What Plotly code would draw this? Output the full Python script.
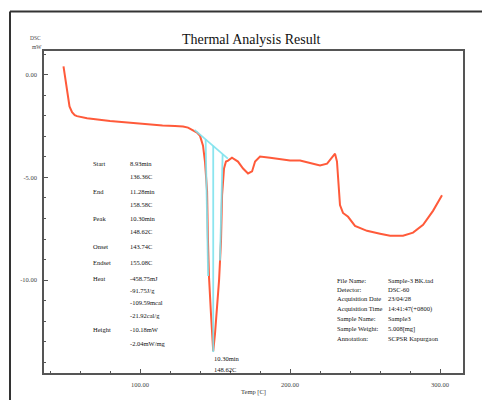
import plotly.graph_objects as go

# ---------------- data ----------------
temp_c = [49.0, 50.0, 51.0, 52.0, 53.0, 54.7, 56.5, 58.0, 64.7, 80.0, 95.0, 106.7, 115.0,
          123.3, 128.7, 132.0, 135.3, 138.0, 140.0, 142.0, 143.3, 144.7, 145.3, 146.0,
          147.3, 148.0, 148.8, 150.0, 151.3, 152.7, 154.0, 154.7, 156.0, 157.3, 158.7,
          161.3, 165.3, 168.7, 172.0, 174.7, 176.7, 180.0, 186.7, 200.0, 206.7, 213.0,
          220.0, 224.7, 228.7, 230.0, 231.3, 232.0, 233.3, 235.3, 238.7, 243.3, 251.3,
          260.0, 266.7, 275.3, 282.0, 288.7, 295.3, 301.3]
dsc_mw = [0.40, -0.10, -0.70, -1.20, -1.55, -1.83, -1.97, -2.02, -2.12, -2.26, -2.36, -2.45,
          -2.48, -2.50, -2.52, -2.58, -2.69, -2.82, -2.98, -3.46, -4.23, -5.67, -8.08, -9.86,
          -11.63, -12.60, -13.46, -12.60, -11.30, -10.00, -8.08, -5.87, -4.57, -4.23, -4.18,
          -4.04, -4.23, -4.57, -4.81, -4.71, -4.23, -3.99, -4.04, -4.18, -4.18, -4.30,
          -4.42, -4.33, -3.99, -3.85, -4.23, -5.19, -6.35, -6.73, -6.92, -7.36, -7.60,
          -7.74, -7.84, -7.84, -7.69, -7.31, -6.63, -5.87]

# analysis construction lines (baseline, onset tangent, peak line, endset tangent)
baseline_t = [136.36, 158.58]
baseline_d = [-2.69, -4.09]
onset_t = [143.74, 145.4]
onset_d = [-3.15, -9.80]
peak_t = [148.8, 148.8]
peak_d = [-3.46, -13.50]
endset_t = [155.08, 153.3]
endset_d = [-3.87, -9.05]

x_tick_vals = [100, 200, 300]
x_tick_text = ["100.00", "200.00", "300.00"]
y_tick_vals = [0, -5, -10]
y_tick_text = ["0.00", "-5.00", "-10.00"]

result_labels = ["Start", "", "End", "", "Peak", "", "Onset", "Endset", "Heat", "", "", "",
                 "Height", ""]
result_values = ["8.93min", "136.36C", "11.28min", "158.58C", "10.30min", "148.62C",
                 "143.74C", "155.08C", "-458.75mJ", "-91.75J/g", "-109.59mcal",
                 "-21.92cal/g", "-10.18mW", "-2.04mW/mg"]

info_labels = ["File Name:", "Detector:", "Acquisition Date", "Acquisition Time",
               "Sample Name:", "Sample Weight:", "Annotation:"]
info_values = ["Sample-3 BK.tad", "DSC-60", "23/04/28", "14:41:47(+0800)", "Sample3",
               "5.008[mg]", "SCPSR Kapurgaon"]

peak_labels = ["10.30min", "148.62C"]

# ---------------- figure ----------------
# page body adds an 8px margin, so the figure is sized/positioned to compensate
OFF = 8
W, H = 490 - OFF, 400 - OFF
PL, PR, PT, PB = 44, 463, 51, 377          # plot-area edges in window pixels
ML, MR, MT, MB = PL - OFF, W - (PR - OFF), PT - OFF, H - (PB - OFF)
PW, PH = W - ML - MR, H - MT - MB


def px_x(px):
    return (px - OFF - ML) / PW


def px_y(py):
    return (H - MB - (py - OFF)) / PH


FONT = "Liberation Serif"
RED = "#ff5a3a"
CYAN = "#7fe3ee"

fig = go.Figure()
fig.add_trace(go.Scatter(x=temp_c, y=dsc_mw, mode="lines",
                         line=dict(color=RED, width=2), hoverinfo="skip"))
for tx, dy in [(baseline_t, baseline_d), (onset_t, onset_d), (peak_t, peak_d),
               (endset_t, endset_d)]:
    fig.add_trace(go.Scatter(x=tx, y=dy, mode="lines",
                             line=dict(color=CYAN, width=1.8), opacity=0.9,
                             hoverinfo="skip"))


def note(text, px, py, size=6.5, xanchor="left", color="#111"):
    return dict(text=text, x=px_x(px), y=px_y(py), xref="paper", yref="paper",
                xanchor=xanchor, yanchor="middle", showarrow=False,
                font=dict(family=FONT, size=size, color=color))


annotations = [
    note("Thermal Analysis Result", 251, 39, size=14, xanchor="center"),
    note("DSC", 35, 38, size=5.5, xanchor="center", color="#444"),
    note("mW", 37, 47, size=5.5, xanchor="center", color="#444"),
    note("Temp [C]", 253, 396, size=6.5, xanchor="center", color="#333"),
]

rows_y = [165, 178, 193, 206, 221, 234, 249, 265, 281, 293.5, 306, 319, 333, 347]
for lab, val, ry in zip(result_labels, result_values, rows_y):
    if lab:
        annotations.append(note(lab, 91, ry))
    annotations.append(note(val, 128, ry))

info_y = [283, 292.5, 302, 312, 322, 332, 342.5]
for lab, val, ry in zip(info_labels, info_values, info_y):
    annotations.append(note(lab, 335, ry))
    annotations.append(note(val, 386, ry))

for lab, ry in zip(peak_labels, [362, 373]):
    annotations.append(note(lab, 212, ry))

shapes = [
    dict(type="line", xref="paper", yref="paper", x0=px_x(10), x1=px_x(500),
         y0=px_y(11), y1=px_y(11), line=dict(color="#333", width=2)),
    dict(type="line", xref="paper", yref="paper", x0=px_x(10), x1=px_x(10),
         y0=px_y(11), y1=px_y(410), line=dict(color="#333", width=2)),
]

fig.update_layout(
    width=W, height=H,
    margin=dict(l=ML, r=MR, t=MT, b=MB),
    paper_bgcolor="white", plot_bgcolor="white",
    showlegend=False,
    annotations=annotations,
    shapes=shapes,
    xaxis=dict(range=[36, 315.3], showgrid=False, zeroline=False,
               showline=True, mirror=True, linecolor="#555", linewidth=1.5,
               ticks="inside", ticklen=4, tickcolor="#555", tickwidth=1,
               tickvals=x_tick_vals, ticktext=x_tick_text, ticklabelstandoff=4,
               tickfont=dict(family=FONT, size=6.5, color="#444"),
               minor=dict(dtick=20, tick0=0, ticks="inside", ticklen=2.5,
                          tickcolor="#555", tickwidth=1)),
    yaxis=dict(range=[-14.52, 1.15], showgrid=False, zeroline=False,
               showline=True, mirror=True, linecolor="#555", linewidth=1.5,
               ticks="inside", ticklen=4, tickcolor="#555", tickwidth=1,
               tickvals=y_tick_vals, ticktext=y_tick_text, ticklabelstandoff=4,
               tickfont=dict(family=FONT, size=6.5, color="#444"),
               minor=dict(dtick=1, tick0=0, ticks="inside", ticklen=2.5,
                          tickcolor="#555", tickwidth=1)),
)

fig.write_html("out.html")
